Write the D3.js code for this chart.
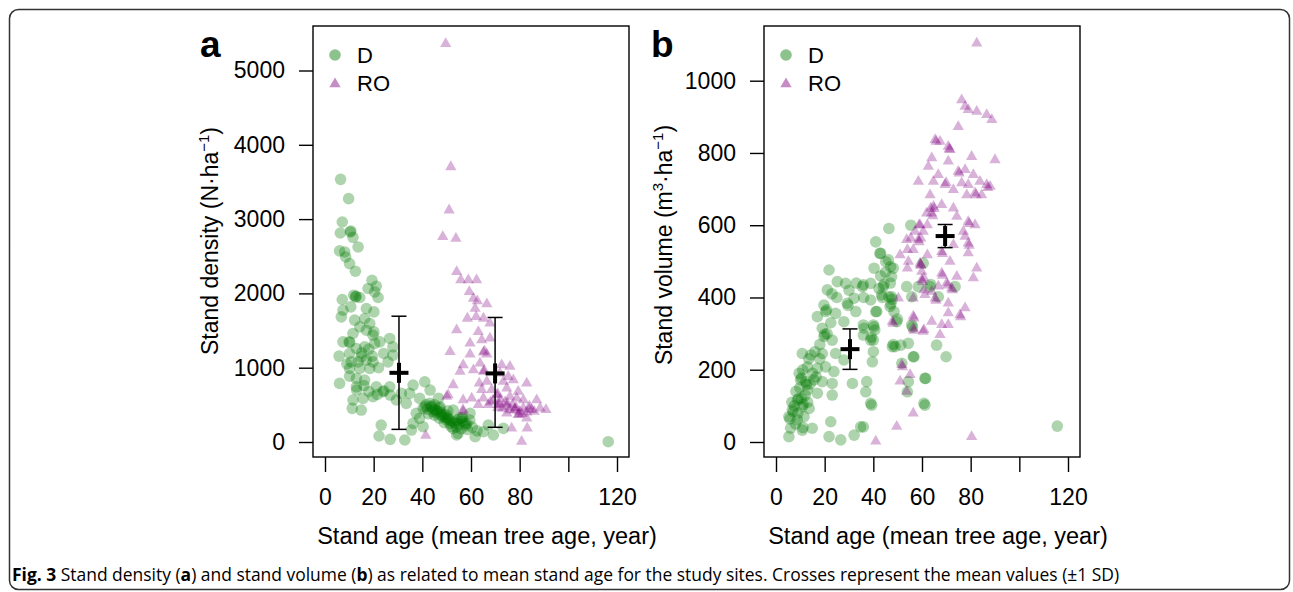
<!DOCTYPE html>
<html>
<head>
<meta charset="UTF-8">
<script src="https://cdn.jsdelivr.net/npm/d3@7"></script>
<style>
  body { margin: 0; background: #fff; }
  svg text { font-family: 'Liberation Sans', Arial, sans-serif; fill: #000; }
  .caption text { font-family: 'Open Sans', sans-serif; }
</style>
</head>
<body>
<svg id="fig" width="1293" height="592"></svg>
<script>
// ---- data: [stand age, value] ----
var groups = ["D", "RO"];
var xTicks = [0, 20, 40, 60, 80, 100, 120];
var xTickLabels = ["0", "20", "40", "60", "80", "", "120"];
var densityTicks = [0, 1000, 2000, 3000, 4000, 5000];
var volumeTicks = [0, 200, 400, 600, 800, 1000];

var densityD = [[6.4,3535],[9.7,3275],[7.1,2961],[10.4,2827],[10.6,2840],[6.3,2813],[11.5,2755],[13.6,2625],[6,2572],[8.1,2558],[8.5,2490],[10.1,2401],[12.5,2298],[19.3,2177],[21.1,2097],[17.7,2066],[20.4,2020],[7.1,1918],[11.8,1976],[14.3,1945],[12.5,1953],[12.8,1960],[21.8,1945],[10.6,1818],[7.4,1774],[17,1797],[20.1,1751],[6.7,1684],[16.3,1662],[12.2,1640],[18.4,1595],[14.3,1550],[17,1505],[20.1,1482],[19.7,1438],[11.5,1461],[9.9,1348],[10.2,1340],[7.4,1348],[26.6,1394],[22.5,1348],[20.4,1327],[16.3,1281],[27.9,1281],[12.9,1259],[5.8,1156],[10.1,1192],[14.9,1146],[19.4,1156],[24.1,1192],[27.9,1169],[10.8,1079],[13.6,1079],[17,1102],[19.7,1079],[25.9,1079],[10.1,990],[14.3,990],[18.4,990],[6,789],[10.1,887],[12.9,856],[16.3,833],[12.9,743],[21.1,743],[23.8,676],[24.2,690],[26.6,743],[26.8,632],[31.4,654],[36.2,766],[41,810],[34.8,654],[11.5,565],[15.6,587],[19.7,609],[29.3,565],[33.4,520],[11.2,453],[14.9,430],[38.9,587],[40.3,453],[43,520],[44.4,408],[47.1,453],[47.8,363],[49.9,296],[51.3,251],[52.6,184],[55.4,319],[57.4,251],[59.5,296],[54.7,117],[37.5,386],[36.2,251],[40.3,206],[35.5,161],[23.1,228],[22.2,81],[26.8,36],[32.8,27],[38.9,319],[43.2,699],[46.6,587],[41.1,474],[47.3,474],[50,363],[52.7,430],[54.1,296],[56.2,319],[56.5,330],[59.6,386],[61.7,71],[65.1,138],[69.2,94],[73.3,184],[67.1,228],[58.2,251],[54.1,94],[116.4,4],[44,470],[45.5,430],[46,390],[48.5,340],[42,440],[50.5,320],[53,270],[45,500],[41.5,500],[43.5,480],[44.8,440],[46.2,420],[47.5,400],[48.8,370],[49.5,330],[51,300],[52,280],[53.5,250],[55,240],[56.5,280],[57.8,220],[42.5,380],[45,360],[47,320],[49,260],[51.8,210],[54,200],[56,180],[58.5,170],[60.5,200],[62.5,150],[50.5,420],[13,700],[16,760],[18,680],[21.5,640],[15,1200],[18,1250],[22,1000],[9,1050]];

var densityRO = [[49.6,5380],[51.7,3723],[51,3141],[48.4,2782],[53.8,2759],[54.1,2312],[55.8,2200],[58.9,2200],[62.3,2200],[59.3,2043],[61,1953],[62.6,1918],[66.5,1877],[61.7,1818],[62.1,1707],[58.5,1684],[65.1,1684],[67.8,1617],[54.1,1528],[63,1505],[59.6,1348],[64.4,1394],[67.8,1415],[51.4,1236],[59.6,1200],[65.1,1227],[65.6,1240],[66.5,1200],[56.8,1058],[63.7,1079],[61,990],[55.5,968],[65.1,968],[65.5,980],[72.6,1058],[76,1035],[71.9,945],[75.3,900],[52.7,789],[63.4,810],[66.5,833],[73.3,833],[77.4,856],[82.9,810],[64.4,722],[68.5,722],[74.7,743],[79.4,699],[50,632],[56.8,587],[60.3,609],[65.1,609],[70.6,654],[71,665],[76,632],[78.8,609],[81.5,587],[87,587],[63,520],[67.1,520],[71.2,520],[71.6,530],[74.7,497],[78.1,474],[78.5,485],[81.5,474],[85,453],[88.4,474],[90.8,453],[74.7,408],[79.4,386],[79.8,395],[82.9,340],[76.7,206],[83.1,206],[80.8,27],[56.8,430],[41.4,108],[50.6,654],[56.7,453],[72,600],[74,560],[77,520],[80,430],[83,420],[76,450],[69,580],[73,470],[84,500],[86,430],[75,540],[78,450],[81,400],[84,460],[71,480],[68,560]];

var volumeD = [[46.4,591],[41,554],[55.4,600],[21.8,476],[43,522],[45.1,499],[47.1,485],[40.3,481],[25.2,444],[28.6,439],[21.1,421],[35.5,430],[38.9,439],[42.3,425],[32.1,398],[38.9,393],[46.4,402],[19.7,379],[20.4,361],[20.8,366],[24.5,356],[29.3,384],[29.6,378],[32.8,361],[17,347],[27.9,333],[41,361],[48.5,361],[19,315],[36.2,315],[40.3,319],[40.6,310],[19.7,292],[20,298],[23.1,282],[38.9,282],[39.2,290],[47.8,264],[48.2,270],[51.3,268],[10.8,245],[14.3,241],[19,245],[24.5,245],[27.9,227],[39.6,222],[56.7,236],[12.9,208],[17,204],[20.4,208],[23.8,195],[9.5,190],[10.1,172],[10.5,178],[12.2,167],[12.6,160],[15.6,172],[19,167],[23.1,162],[31.4,162],[12.9,144],[17,135],[23.1,130],[61.5,176],[54,139],[36.9,139],[8.8,116],[9.2,120],[10.8,98],[11.2,104],[6.7,89],[7.1,84],[13.6,93],[38.9,107],[60.8,107],[5.3,70],[5.7,64],[8.8,61],[6,38],[10.8,33],[11.1,40],[14.9,38],[22.5,56],[34.8,42],[5.3,15],[21.8,15],[26.6,6],[32.1,19],[42.7,522],[46.2,504],[48.2,481],[47.5,458],[35.9,435],[44.1,430],[44.4,437],[53.7,430],[58.5,430],[60.5,495],[63.3,430],[63.6,436],[73.6,430],[43.4,407],[43.7,400],[47.5,402],[47.8,395],[55.8,402],[66.7,402],[46.9,375],[47.2,382],[41.4,361],[35.9,324],[40,324],[49.6,333],[49.9,340],[55.8,324],[56.1,318],[40,282],[48.9,264],[54.4,273],[35.9,296],[40,250],[66,268],[69.9,236],[56.4,236],[51.7,218],[61.2,176],[37.3,167],[54.4,167],[39.3,102],[61.2,102],[35.9,42],[115.6,44],[7.5,100],[8.2,140],[9,80],[9.8,150],[10.5,120],[11.5,70],[12,130],[13,110],[8,50],[6.5,110],[14,160],[15,190],[16.5,180],[18,230],[11,200],[13.5,230],[16,250],[18,270],[21,300],[22.5,330],[25,400],[23,410],[30,420],[33,440],[36,400],[43,460],[45,470],[47,440]];

var volumeRO = [[82.5,1108],[76.3,951],[77.7,933],[79,924],[82.5,919],[86.6,910],[88.7,896],[74.9,877],[65.4,841],[65.8,836],[67.4,836],[70.8,822],[71.2,815],[71.5,813],[64,790],[70.8,781],[80.4,794],[90,785],[62.6,767],[74.9,753],[75.3,748],[77.7,758],[81.1,744],[66.7,744],[58.5,725],[64.7,725],[69.5,716],[69.9,722],[76.3,721],[79,716],[83.8,725],[86.6,716],[87,708],[63.3,688],[72.9,702],[78.4,688],[81.8,693],[82.2,688],[84.5,688],[88,711],[68.1,661],[64.7,656],[65,650],[72.9,651],[61.9,637],[64,637],[64.4,630],[74.3,628],[79,614],[79.4,608],[81.8,605],[59.2,605],[60.5,587],[57.1,587],[77,587],[53.7,564],[58.5,564],[58.8,558],[77.7,573],[79,554],[79.4,548],[72.9,550],[56.4,536],[68.1,531],[68.4,525],[79,527],[51,522],[54.4,504],[59.2,499],[59.5,493],[71.5,504],[82.5,485],[59.9,476],[68.1,471],[68.4,465],[74.3,462],[81.1,458],[59.9,453],[60.2,448],[70.2,444],[70.5,438],[66.7,435],[72.2,430],[72.5,425],[64,421],[61.2,412],[65.4,402],[65.7,396],[56.4,402],[50.3,402],[70.8,388],[77.7,375],[75.6,356],[75.9,350],[70.8,361],[68.1,329],[70.8,329],[64,338],[56.4,352],[60.5,310],[67.4,301],[56.4,319],[56.7,313],[51.7,218],[52,212],[55.1,190],[51,172],[53.7,144],[56.4,84],[49.6,47],[80.4,19],[41,6],[47.8,338],[48.1,332],[60.8,315],[56.7,347],[54,485],[55.4,568],[59.5,568],[62.2,605],[58.8,605],[54,536],[62.2,522],[59.5,495],[60.8,458],[60.8,425],[63.6,651]];

// mean age, mean value, mean-1SD, mean+1SD for D and RO
var densityMeans = [[30.4, 931, 170, 1693], [69.9, 923, 198, 1676]];
var volumeMeans = [[30.4, 257, 201, 313], [69.5, 570, 538, 602]];

var svg = d3.select("#fig");

// outer frame
svg.append("rect")
    .attr("x", 9.5).attr("y", 9.5)
    .attr("width", 1280).attr("height", 580)
    .attr("rx", 9)
    .attr("fill", "none").attr("stroke", "#333").attr("stroke-width", 1.5);

var green = "rgb(0,120,0)", purple = "rgb(128,0,128)";
var triangle = d3.symbol().type(d3.symbolTriangle).size(55);

function panel(opts) {
    var x = d3.scaleLinear().domain([0, 120]).range([opts.left + 12, opts.left + 304]);
    var y = d3.scaleLinear().domain([0, opts.yMax]).range([442, opts.yTop]);
    var g = svg.append("g");

    // box
    g.append("rect")
        .attr("x", opts.left).attr("y", 26)
        .attr("width", 316).attr("height", 431)
        .attr("fill", "none").attr("stroke", "#000").attr("stroke-width", 1.4);

    var xa = g.append("g")
        .attr("transform", "translate(0,457)")
        .call(d3.axisBottom(x).tickValues(xTicks)
            .tickFormat(function (d, i) { return xTickLabels[i]; })
            .tickSize(15).tickPadding(17).tickSizeOuter(0));
    var ya = g.append("g")
        .attr("transform", "translate(" + opts.left + ",0)")
        .call(d3.axisLeft(y).tickValues(opts.ticks).tickFormat(d3.format("d"))
            .tickSize(14).tickPadding(14));
    [xa, ya].forEach(function (a) {
        a.select(".domain").remove();
        a.selectAll("line").attr("stroke", "#000").attr("stroke-width", 1.4);
        a.selectAll("text").attr("font-size", 23);
    });

    // points
    g.selectAll("circle.pt").data(opts.d).enter().append("circle")
        .attr("class", "pt")
        .attr("cx", function (d) { return x(d[0]); })
        .attr("cy", function (d) { return y(d[1]); })
        .attr("r", 5.8)
        .attr("fill", green).attr("fill-opacity", 0.32);
    g.selectAll("path.tri").data(opts.ro).enter().append("path")
        .attr("class", "tri")
        .attr("d", triangle)
        .attr("transform", function (d) { return "translate(" + x(d[0]) + "," + (y(d[1]) + 1.5) + ")"; })
        .attr("fill", purple).attr("fill-opacity", 0.3);

    // means with +-1 SD
    opts.means.forEach(function (m) {
        var cx = x(m[0]);
        g.append("line").attr("x1", cx).attr("x2", cx).attr("y1", y(m[2])).attr("y2", y(m[3]))
            .attr("stroke", "#000").attr("stroke-width", 1.5);
        [m[2], m[3]].forEach(function (v) {
            g.append("line").attr("x1", cx - 7.5).attr("x2", cx + 7.5).attr("y1", y(v)).attr("y2", y(v))
                .attr("stroke", "#000").attr("stroke-width", 1.5);
        });
        g.append("line").attr("x1", cx - 9.5).attr("x2", cx + 9.5).attr("y1", y(m[1])).attr("y2", y(m[1]))
            .attr("stroke", "#000").attr("stroke-width", 4);
        g.append("line").attr("x1", cx).attr("x2", cx).attr("y1", y(m[1]) - 10).attr("y2", y(m[1]) + 10)
            .attr("stroke", "#000").attr("stroke-width", 4);
    });

    // legend
    var lg = g.append("g").attr("transform", "translate(" + (opts.left + 22) + ",0)");
    lg.append("circle").attr("cx", 0).attr("cy", 55).attr("r", 5.8)
        .attr("fill", green).attr("fill-opacity", 0.45);
    lg.append("path").attr("d", triangle).attr("transform", "translate(0,84)")
        .attr("fill", purple).attr("fill-opacity", 0.45);
    lg.selectAll("text.lg").data(groups).enter().append("text")
        .attr("x", 22).attr("y", function (d, i) { return 63 + i * 28; })
        .attr("font-size", 22).text(function (d) { return d; });

    // panel letter
    g.append("text").attr("x", opts.left - 113).attr("y", 57)
        .attr("font-size", 37).attr("font-weight", "bold").text(opts.letter);

    // x title
    g.append("text").attr("x", opts.left + 174).attr("y", 544)
        .attr("text-anchor", "middle").attr("font-size", 23.5)
        .text("Stand age (mean tree age, year)");

    // y title (superscripts get a smaller size)
    var yt = g.append("text")
        .attr("transform", "translate(" + opts.titleX + "," + opts.titleY + ") rotate(-90)")
        .attr("text-anchor", "middle").attr("font-size", 23);
    yt.append("tspan").text(opts.title);
    opts.unit.forEach(function (u) {
        var t = yt.append("tspan").text(u[0]).attr("dy", u[1]);
        if (u[1] < 0) t.attr("font-size", 15);
    });
}

panel({
    left: 313, yMax: 5000, yTop: 70.5, ticks: densityTicks,
    d: densityD, ro: densityRO, means: densityMeans, letter: "a",
    titleX: 218, titleY: 241, title: "Stand density (N\u00b7ha",
    unit: [["\u22121", -9], [")", 9]]
});
panel({
    left: 764, yMax: 1000, yTop: 80.7, ticks: volumeTicks,
    d: volumeD, ro: volumeRO, means: volumeMeans, letter: "b",
    titleX: 672, titleY: 245, title: "Stand volume (m",
    unit: [["3", -9], ["\u00b7ha", 9], ["\u22121", -9], [")", 9]]
});

// caption: squeezed horizontally to the condensed width of the original
var capG = svg.append("g").attr("class", "caption");
var cap = capG.append("text").attr("x", 0).attr("y", 0).attr("font-size", 18.5);
[["Fig. 3", true], [" Stand density (", false], ["a", true], [") and stand volume (", false], ["b", true],
 [") as related to mean stand age for the study sites. Crosses represent the mean values (\u00b11 SD)", false]]
    .forEach(function (p) {
        cap.append("tspan").attr("font-weight", p[1] ? "bold" : "normal").text(p[0]);
    });
var natural = cap.node().getComputedTextLength();
capG.attr("transform", "translate(12,581) scale(" + (1108 / natural) + ",1)");
</script>
</body>
</html>
